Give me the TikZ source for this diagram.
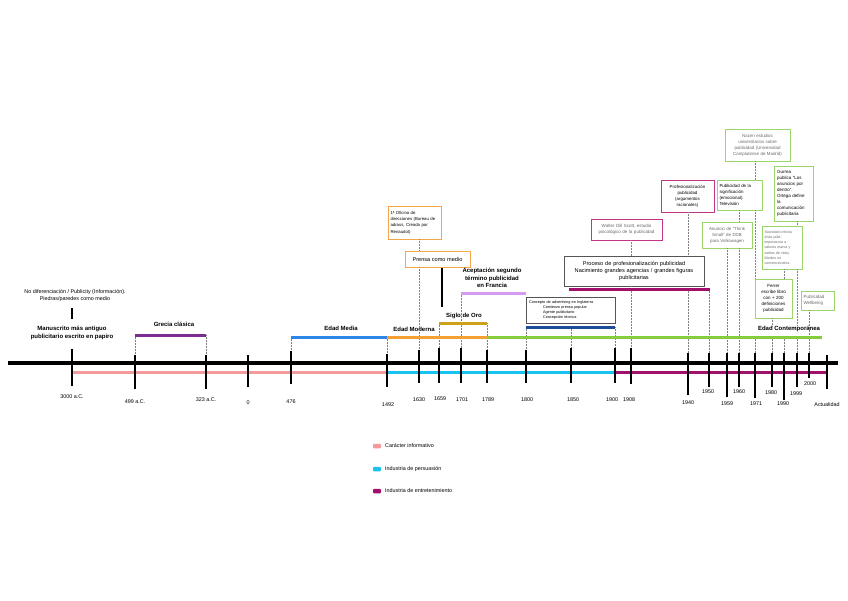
\documentclass[tikz,border=0pt]{standalone}
\usepackage{fontspec}
\setmainfont{Liberation Sans}
\definecolor{cpink}{HTML}{F59A9A}
\definecolor{ccyan}{HTML}{19C3F0}
\definecolor{cmag}{HTML}{A3106B}
\definecolor{cpurple}{HTML}{7D2C92}
\definecolor{cblue}{HTML}{2C86E8}
\definecolor{corange}{HTML}{F6A033}
\definecolor{cgold}{HTML}{CFA01A}
\definecolor{clilac}{HTML}{D89AF0}
\definecolor{cgreen}{HTML}{86CC3C}
\definecolor{cnavy}{HTML}{1B4E96}
\definecolor{bgreen}{HTML}{9AD66A}
\definecolor{bmag}{HTML}{C2368A}
\definecolor{borange}{HTML}{F5A54A}
\definecolor{bgray}{HTML}{555555}
\definecolor{tgray}{HTML}{6A6A6A}
\tikzset{
  fs/.style 2 args={font=\fontsize{#1}{#2}\selectfont},
  axisline/.style={line width=3.2pt, black},
  tickline/.style={line width=2.4pt, black},
  barline/.style={line width=3pt},
  colline/.style={line width=3pt},
  dots/.style={gray, densely dotted, line width=0.5pt},
  yr/.style={fs={5.4}{6.5}, inner sep=0pt},
  ttl/.style={font=\bfseries\fontsize{6}{7.4}\selectfont, align=center, inner sep=0pt},
  bx/.style={draw, line width=0.8pt, inner sep=0pt, fill=white},
  sw/.style={rounded corners=1pt, minimum width=8pt, minimum height=4.5pt, inner sep=0pt},
  lgt/.style={fs={5.4}{6.5}, anchor=west, inner sep=0pt}
}
\begin{document}
\begin{tikzpicture}[x=1pt,y=-1pt]
\fill[white] (0,0) rectangle (848,600);
\useasboundingbox (0,0) rectangle (848,600);

% ---- boxes ----
\node[bx, draw=borange, minimum width=53pt, minimum height=33pt, text width=48pt, align=left, fs={4.3}{6.3}] (ofi) at (414.5,222.5)
  {1ª Oficina de\\direcciones (Bureau de\\adrass, Creada por\\Renaudot)};
\node[bx, draw=borange, minimum width=65pt, minimum height=16pt, fs={5.6}{6.5}] (prensa) at (437.5,259) {Prensa como medio};
\node[bx, draw=bgray, minimum width=89pt, minimum height=26pt, text width=83pt, align=left, fs={3.8}{5.1}] (concepto) at (570.5,310)
  {Concepto de advertising en Inglaterra\\\hspace*{14pt}Comienzo prensa popular\\\hspace*{14pt}Agente publicitario\\\hspace*{14pt}Concepción técnica};
\node[bx, draw=bgray, minimum width=140pt, minimum height=30pt, text width=136pt, align=center, fs={5.6}{7.4}] (proceso) at (634,271)
  {Proceso de profesionalización publicidad\\Nacimiento grandes agencias / grandes figuras\\publicitarias};
\node[bx, draw=bmag, minimum width=71pt, minimum height=21pt, text width=68pt, align=center, text=tgray, fs={4.5}{6.4}] (walter) at (626.5,229.5)
  {Walter Dill Scott, estudio\\psicológico de la publicidad};
\node[bx, draw=bmag, minimum width=53pt, minimum height=32pt, text width=50pt, align=center, fs={4.4}{6}] (profes) at (687.5,196)
  {Profesionalización\\publicidad\\(argumentos\\racionales)};
\node[bx, draw=bgreen, minimum width=45pt, minimum height=30pt, text width=40pt, align=left, fs={4.4}{6}] (signif) at (739.5,195)
  {Publicidad de la\\significación\\(emocional).\\Televisión};
\node[bx, draw=bgreen, minimum width=65pt, minimum height=32pt, text width=62pt, align=center, text=tgray, fs={4.4}{6}] (nacen) at (757.5,145)
  {Nacen estudios\\universitarios sobre\\publicidad (Universidad\\Complutense de Madrid)};
\node[bx, draw=bgreen, minimum width=50pt, minimum height=26pt, text width=48pt, align=center, text=tgray, fs={4.4}{6}] (think) at (727,235)
  {Anuncio de "Think\\Small" de DDB\\para Volkswagen};
\node[bx, draw=bgreen, minimum width=39pt, minimum height=55pt, text width=33pt, align=left, fs={4.5}{6}] (gurrea) at (793.5,193.5)
  {Gurrea\\publica "Los\\anuncios por\\dentro".\\Ortega define\\la\\comunicación\\publicitaria};
\node[bx, draw=bgreen, minimum width=40pt, minimum height=43pt, text width=35pt, align=left, text=tgray, fs={3.6}{5.2}] (sociedad) at (782,247.5)
  {Sociedad críticos\\(más públ.\\importancia a\\valores marca y\\estilos de vida).\\Medios no\\convencionales.};
\node[bx, draw=bgreen, minimum width=37pt, minimum height=39pt, text width=35pt, align=center, fs={4.5}{6}] (ferrer) at (773.5,298.5)
  {Ferrer\\escribe libro\\con + 200\\definiciones\\publicidad};
\node[bx, draw=bgreen, minimum width=33pt, minimum height=19pt, text width=28pt, align=left, text=tgray, fs={4.5}{6}] (wellbeing) at (817.5,300.5)
  {Publicidad\\Wellbeing};

% ---- titles ----
\node[fs={5.4}{7.4}, align=center, inner sep=0pt] (nodif) at (75,295.5)
  {No diferenciación / Publicity (Información).\\Piedras/paredes como medio};
\node[ttl] (manu) at (72,333) {Manuscrito más antiguo\\publicitario escrito en papiro};
\node[ttl] (grecia) at (174,324) {Grecia clásica};
\node[ttl] (media) at (341,328) {Edad Media};
\node[ttl] (moderna) at (414,329) {Edad Moderna};
\node[ttl] (oro) at (464,316) {Siglo de Oro};
\node[ttl] (acept) at (492,278) {Aceptación segundo\\término publicidad\\en Francia};
\node[ttl] (contemp) at (789,329) {Edad Contemporánea};

% ---- tick coordinates and labels ----
\foreach \n/\x/\t/\b/\lx/\ly/\txt in {
  3000/72/349/386/72/397/3000 a.C.,
  499/135/355/389/135/402/499 a.C.,
  323/206/355/389/206/400/323 a.C.,
  0/248/355/387/248/403/0,
  476/291/351/384/291/402/476,
  1492/387/354/387/388/405/1492,
  1630/419/350/383/419/400/1630,
  1659/439/348/383/440/399/1659,
  1701/461/348/383/462/400/1701,
  1789/487/350/383/488/400/1789,
  1800/526/350/383/527/400/1800,
  1850/571/348/383/573/400/1850,
  1900/615/348/383/612/400/1900,
  1908/631/348/384/629/400/1908,
  1940/688/353/395/688/403/1940,
  1950/709/353/387/708/392/1950,
  1959/727/353/397/727/404/1959,
  1960/739/353/387/739/392/1960,
  1971/755/353/398/756/404/1971,
  1980/772/353/387/771/393/1980,
  1990/784/353/400/783/404/1990,
  1999/797/353/387/796/394/1999,
  2000/809/353/378/810/384/2000,
  act/827/355/389/827/405/Actualidad}{
  \coordinate (k\n) at (\x,\t);
  \coordinate (e\n) at (\x,\b);
  \node[yr] (y\n) at (\lx,\ly) {\txt};
}

% ---- bar coordinates ----
\coordinate (gre1) at (135,335); \coordinate (gre2) at (206,335);
\coordinate (med1) at (291,337); \coordinate (med2) at (387,337);
\coordinate (mod2) at (487,337); \coordinate (con2) at (822,337);
\coordinate (oro1) at (439,323); \coordinate (oro2) at (487,323);
\coordinate (ace1) at (461,293); \coordinate (ace2) at (526,293);
\coordinate (nav1) at (526,327); \coordinate (nav2) at (615,327);
\coordinate (pro1) at (569,289); \coordinate (pro2) at (710,289);

% ---- dotted connectors ----
\draw[dots] (gre1) -- (k499);
\draw[dots] (gre2) -- (k323);
\draw[dots] (med1) -- (k476);
\draw[dots] (med2) -- (k1492);
\draw[dots] (ofi.south -| k1630) -- (prensa.north -| k1630);
\draw[dots] (prensa.south -| k1630) -- (k1630);
\draw[dots] (oro1) -- (k1659);
\draw[dots] (ace1) -- (k1701);
\draw[dots] (oro2) -- (k1789);
\draw[dots] (nav1) -- (k1800);
\draw[dots] (nav1 -| k1850) -- (k1850);
\draw[dots] (nav2) -- (k1900);
\draw[dots] (walter.south -| k1908) -- (proceso.north -| k1908);
\draw[dots] (proceso.south -| k1908) -- (k1908);
\draw[dots] (profes.south -| k1940) -- (proceso.north -| k1940);
\draw[dots] (pro1 -| k1940) -- (k1940);
\draw[dots] (pro2 -| k1950) -- (k1950);
\draw[dots] (think.south -| k1959) -- (k1959);
\draw[dots] (signif.south -| k1960) -- (think.north -| k1960);
\draw[dots] (think.south -| k1960) -- (k1960);
\draw[dots] (nacen.south -| k1971) -- (signif.north -| k1971);
\draw[dots] (signif.south -| k1971) -- (ferrer.north -| k1971);
\draw[dots] (con2 -| k1971) -- (k1971);
\draw[dots] (ferrer.south -| k1980) -- (contemp.north -| k1980);
\draw[dots] (con2 -| k1980) -- (k1980);
\draw[dots] (sociedad.south -| k1990) -- (ferrer.north -| k1990);
\draw[dots] (con2 -| k1990) -- (k1990);
\draw[dots] (gurrea.south -| k1999) -- (sociedad.north -| k1999);
\draw[dots] (sociedad.south -| k1999) -- (contemp.north -| k1999);
\draw[dots] (con2 -| k1999) -- (k1999);
\draw[dots] (wellbeing.south -| k2000) -- (k2000);

% ---- period bars ----
\draw[barline, cpurple] (gre1) -- (gre2);
\draw[barline, cblue] (med1) -- (med2);
\draw[barline, corange] (med2) -- (mod2);
\draw[barline, cgreen] (mod2) -- (con2);
\draw[barline, cgold] (oro1) -- (oro2);
\draw[barline, clilac] (ace1) -- (ace2);
\draw[barline, cnavy] (nav1) -- (nav2);
\draw[barline, cmag] (pro1) -- (pro2);

% ---- short black markers ----
\coordinate (m1a) at (72,308); \coordinate (m1b) at (72,319);
\draw[tickline] (m1a) -- (m1b);
\coordinate (m2a) at (442,268); \coordinate (m2b) at (442,307);
\draw[tickline] (m2a) -- (m2b);

% ---- axis and colour lines ----
\coordinate (ax1) at (8,363); \coordinate (ax2) at (838,363);
\draw[axisline] (ax1) -- (ax2);
\coordinate (c1) at (72,372); \coordinate (c2) at (388,372);
\coordinate (c3) at (614,372); \coordinate (c4) at (827,372);
\draw[colline, cpink] (c1) -- (c2);
\draw[colline, ccyan] (c2) -- (c3);
\draw[colline, cmag] (c3) -- (c4);

% ---- ticks ----
\foreach \n in {3000,499,323,0,476,1492,1630,1659,1701,1789,1800,1850,1900,1908,1940,1950,1959,1960,1971,1980,1990,1999,2000,act}{
  \draw[tickline] (k\n) -- (e\n);
}

% ---- legend ----
\node[sw, fill=cpink] (lg1) at (377,446) {};
\node[lgt] (lt1) at (385,446) {Carácter informativo};
\node[sw, fill=ccyan] (lg2) at (377,469) {};
\node[lgt] (lt2) at (385,469) {Industria de persuasión};
\node[sw, fill=cmag] (lg3) at (377,491) {};
\node[lgt] (lt3) at (385,491) {Industria de entretenimiento};
\end{tikzpicture}
\end{document}
